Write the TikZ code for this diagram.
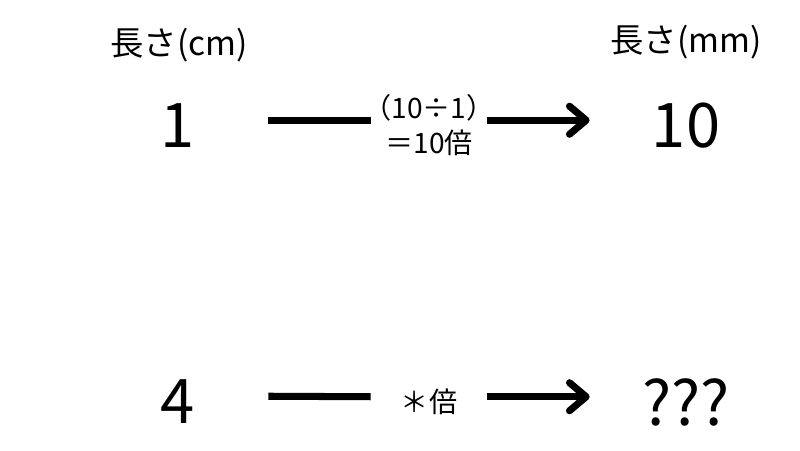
\documentclass[tikz,border=0pt]{standalone}
\usepackage{fontspec}
\setmainfont{Noto Sans CJK JP}
\usetikzlibrary{positioning, arrows.meta}
\tikzset{unithead/.style={font=\fontsize{19}{22}\selectfont, inner sep=0pt}}
\tikzset{val/.style={font=\fontsize{35}{40}\selectfont, inner sep=0pt}}
\tikzset{valleft/.style={val, minimum width=3.6cm}}
\tikzset{valright/.style={val, minimum width=3.84cm}}
\tikzset{ratio/.style={font=\fontsize{16}{20}\selectfont, align=center, inner sep=0pt}}
\tikzset{arr/.style={draw, line width=4pt}}
\tikzset{arrtip/.style={arr, -{Straight Barb[length=9.5pt, width=16pt, line cap=round, line join=round]}}}

\begin{document}
\begin{tikzpicture}[x=0.02cm, y=-0.02cm]
	\useasboundingbox (0,0) rectangle (800,450);
	% column heads
	\node[unithead] (hcm) at (179,45) {長さ(cm)};
	\node[unithead] (hmm) at (686,42) {長さ(mm)};
	%
	\node[valleft] (one) at (178,125.5) {1};
	\node[ratio] (rate) at (429,125.5) {（10÷1）\\＝10倍};
	\node[valright] (ten) at (686,125.5) {10};
	\draw[arr] ([yshift=3pt]one.east) -- ([xshift=-1.17cm, yshift=3pt]rate.center);
	\draw[arrtip] ([xshift=1.17cm, yshift=3pt]rate.center) -- ([yshift=3pt]ten.west);
	%
	\node[valleft] (four) at (178,401.5) {4};
	\node[ratio] (times) at (429,402) {＊倍};
	\node[valright] (unknown) at (686,402) {???};
	\draw[arr] ([yshift=3pt]four.east) -- ([xshift=-1.17cm, yshift=3pt]times.center);
	\draw[arrtip] ([xshift=1.17cm, yshift=3pt]times.center) -- ([yshift=3pt]unknown.west);
\end{tikzpicture}
\end{document}
